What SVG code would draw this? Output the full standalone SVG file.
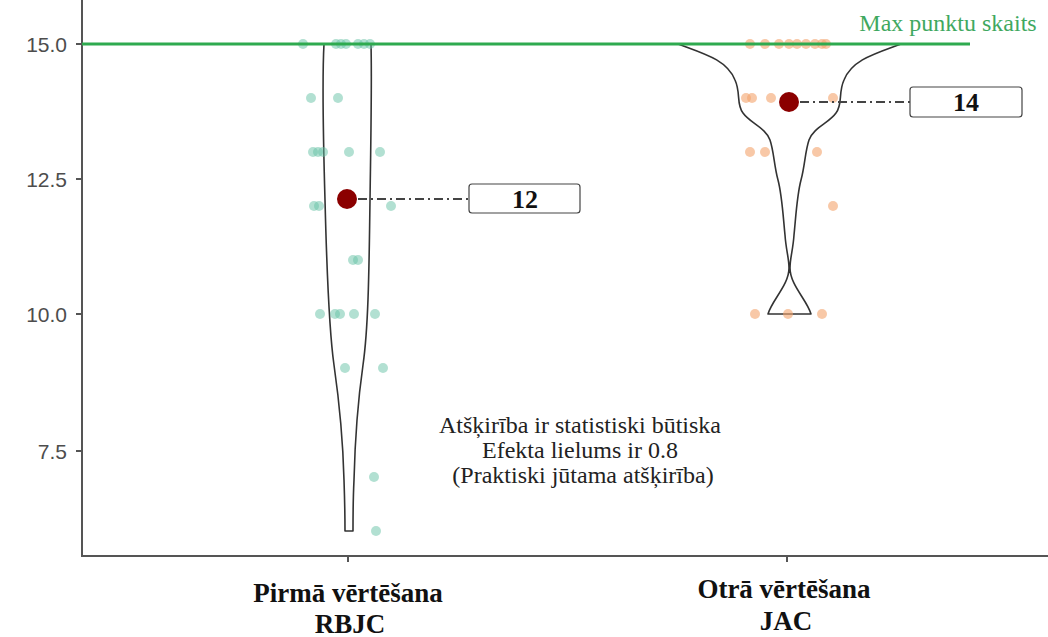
<svg xmlns="http://www.w3.org/2000/svg" width="1048" height="637" viewBox="0 0 1048 637">
<style>
.tick{font-family:"Liberation Sans",Arial,sans-serif;font-size:21px;fill:#4d4d4d;text-anchor:end;dominant-baseline:central}
.xl{font-family:"Liberation Serif","Times New Roman",serif;font-size:27px;font-weight:bold;fill:#111;text-anchor:middle}
.note{font-family:"Liberation Serif","Times New Roman",serif;font-size:24px;fill:#222;text-anchor:middle}
.val{font-family:"Liberation Serif","Times New Roman",serif;font-size:26px;font-weight:bold;fill:#111;text-anchor:middle;dominant-baseline:central}
.box{fill:#fff;stroke:#444;stroke-width:1.2}
.vio{fill:none;stroke:#333;stroke-width:1.6;stroke-linejoin:round}
.g{fill:#66c2a5;opacity:0.5}
.o{fill:#f4a46c;opacity:0.6}
.mean{fill:#8b0000}
.dd{stroke:#444;stroke-width:1.8;stroke-dasharray:9 4 2 4;fill:none}
.axis{stroke:#555;stroke-width:2;fill:none}
</style>
<rect width="1048" height="637" fill="#fff"/>
<g id="axes">
<line class="axis" x1="82" y1="0" x2="82" y2="556"/>
<line class="axis" x1="81" y1="556" x2="1048" y2="556"/>
<line class="axis" x1="76" y1="44" x2="82" y2="44"/>
<line class="axis" x1="76" y1="179" x2="82" y2="179"/>
<line class="axis" x1="76" y1="314" x2="82" y2="314"/>
<line class="axis" x1="76" y1="451" x2="82" y2="451"/>
<line class="axis" x1="348" y1="556" x2="348" y2="562"/>
<line class="axis" x1="787" y1="556" x2="787" y2="562"/>
<text class="tick" x="67" y="44">15.0</text>
<text class="tick" x="67" y="179">12.5</text>
<text class="tick" x="67" y="314">10.0</text>
<text class="tick" x="67" y="451">7.5</text>
<text class="xl" x="348" y="602">Pirmā vērtēšana</text>
<text class="xl" x="350" y="633">RBJC</text>
<text class="xl" x="784" y="598">Otrā vērtēšana</text>
<text class="xl" x="786" y="630">JAC</text>
</g>
<g id="violin-rbjc">
<path class="vio" d="M324,44 C322,80 323,130 325,200 C327,280 329,330 334,365 C339,400 343,440 344,480 C345,510 345,525 345,531 L353,531 C353,520 353,500 354,480 C355,440 358,400 363,365 C368,330 369,280 370,200 C371,130 372,80 371,44 Z"/>
<circle class="g" cx="303" cy="44" r="5"/>
<circle class="g" cx="336" cy="44" r="5"/>
<circle class="g" cx="341" cy="44" r="5"/>
<circle class="g" cx="346" cy="44" r="5"/>
<circle class="g" cx="358" cy="44" r="5"/>
<circle class="g" cx="364" cy="44" r="5"/>
<circle class="g" cx="370" cy="44" r="5"/>
<circle class="g" cx="311" cy="98" r="5"/>
<circle class="g" cx="338" cy="98" r="5"/>
<circle class="g" cx="313" cy="152" r="5"/>
<circle class="g" cx="318" cy="152" r="5"/>
<circle class="g" cx="323" cy="152" r="5"/>
<circle class="g" cx="349" cy="152" r="5"/>
<circle class="g" cx="380" cy="152" r="5"/>
<circle class="g" cx="314" cy="206" r="5"/>
<circle class="g" cx="319" cy="206" r="5"/>
<circle class="g" cx="391" cy="206" r="5"/>
<circle class="g" cx="353" cy="260" r="5"/>
<circle class="g" cx="358" cy="260" r="5"/>
<circle class="g" cx="320" cy="314" r="5"/>
<circle class="g" cx="335" cy="314" r="5"/>
<circle class="g" cx="340" cy="314" r="5"/>
<circle class="g" cx="354" cy="314" r="5"/>
<circle class="g" cx="375" cy="314" r="5"/>
<circle class="g" cx="345" cy="368" r="5"/>
<circle class="g" cx="383" cy="368" r="5"/>
<circle class="g" cx="374" cy="477" r="5"/>
<circle class="g" cx="376" cy="531" r="5"/>
<circle class="mean" cx="347" cy="199" r="10"/>
</g>
<g id="violin-jac">
<path class="vio" d="M678,44 C705,54 727,60 735,80 C741,93 736,104 743,113 C750,123 766,128 770,140 C774,152 774,165 778,180 C782,195 783,215 785,235 C786,250 789,258 789,268 C789,285 772,300 768,314 L811,314 C807,300 790,285 790,268 C790,258 793,250 794,235 C796,215 797,195 801,180 C805,165 805,152 809,140 C813,128 829,123 836,113 C843,104 838,93 844,80 C852,60 874,54 901,44 Z"/>
<circle class="o" cx="750" cy="44" r="5"/>
<circle class="o" cx="765" cy="44" r="5"/>
<circle class="o" cx="779" cy="44" r="5"/>
<circle class="o" cx="789" cy="44" r="5"/>
<circle class="o" cx="797" cy="44" r="5"/>
<circle class="o" cx="806" cy="44" r="5"/>
<circle class="o" cx="815" cy="44" r="5"/>
<circle class="o" cx="822" cy="44" r="5"/>
<circle class="o" cx="826" cy="44" r="5"/>
<circle class="o" cx="746" cy="98" r="5"/>
<circle class="o" cx="752" cy="98" r="5"/>
<circle class="o" cx="771" cy="98" r="5"/>
<circle class="o" cx="833" cy="98" r="5"/>
<circle class="o" cx="750" cy="152" r="5"/>
<circle class="o" cx="765" cy="152" r="5"/>
<circle class="o" cx="817" cy="152" r="5"/>
<circle class="o" cx="833" cy="206" r="5"/>
<circle class="o" cx="755" cy="314" r="5"/>
<circle class="o" cx="788" cy="314" r="5"/>
<circle class="o" cx="822" cy="314" r="5"/>
<circle class="mean" cx="789" cy="102" r="10"/>
</g>
<g id="max-line">
<line x1="82" y1="44" x2="970" y2="44" stroke="#2eaa4f" stroke-width="3.2"/>
<text x="948" y="31" text-anchor="middle" font-family="'Liberation Serif','Times New Roman',serif" font-size="24" fill="#3fa85f">Max punktu skaits</text>
</g>
<g id="connectors">
<line class="dd" x1="358" y1="199" x2="469" y2="199"/>
<line class="dd" x1="800" y1="102" x2="910" y2="102"/>
</g>
<g id="label-12">
<rect class="box" x="469" y="184" width="111" height="29" rx="3"/>
<text class="val" x="525" y="199">12</text>
</g>
<g id="label-14">
<rect class="box" x="910" y="87" width="112" height="30" rx="3"/>
<text class="val" x="966" y="102">14</text>
</g>
<g id="note">
<text class="note" x="580" y="433">Atšķirība ir statistiski būtiska</text>
<text class="note" x="580" y="458">Efekta lielums ir 0.8</text>
<text class="note" x="583" y="483">(Praktiski jūtama atšķirība)</text>
</g>
</svg>
